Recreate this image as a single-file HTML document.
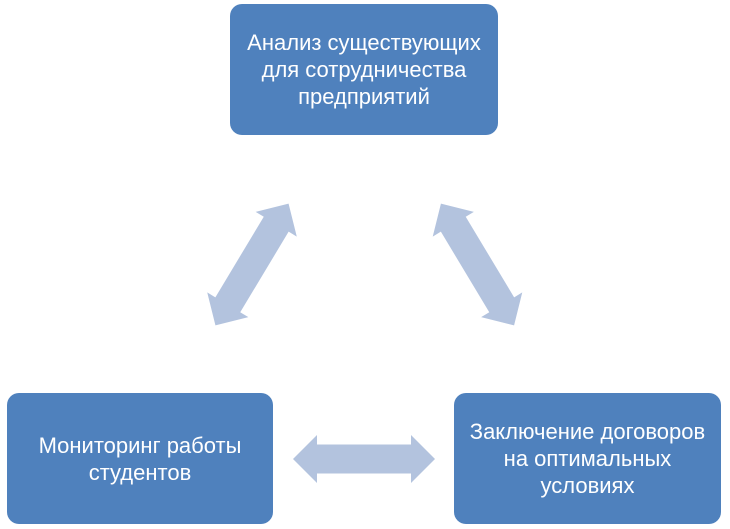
<!DOCTYPE html>
<html><head><meta charset="utf-8"><style>
body{margin:0;width:730px;height:529px;background:#fff;position:relative;overflow:hidden;font-family:"Liberation Sans",sans-serif}
.b{position:absolute;background:#4f81bd;border-radius:12px;color:#fff;font-size:22px;line-height:27px;display:flex;align-items:center;justify-content:center;text-align:center;white-space:nowrap}
svg{position:absolute;left:0;top:0}
</style></head><body>
<svg width="730" height="529">
<defs><polygon id="a" points="-71,0 -47,-24 -47,-14.5 47,-14.5 47,-24 71,0 47,24 47,14.5 -47,14.5 -47,24" fill="#b3c3de"/></defs>
<use href="#a" transform="translate(364,459)"/>
<use href="#a" transform="translate(252,264.5) rotate(-59)"/>
<use href="#a" transform="translate(477.5,264.5) rotate(59)"/>
</svg>
<div class="b" style="left:230px;top:4px;width:268px;height:131px">Анализ существующих<br>для сотрудничества<br>предприятий</div>
<div class="b" style="left:7px;top:393px;width:266px;height:131px">Мониторинг работы<br>студентов</div>
<div class="b" style="left:454px;top:393px;width:267px;height:131px">Заключение договоров<br>на оптимальных<br>условиях</div>
</body></html>
